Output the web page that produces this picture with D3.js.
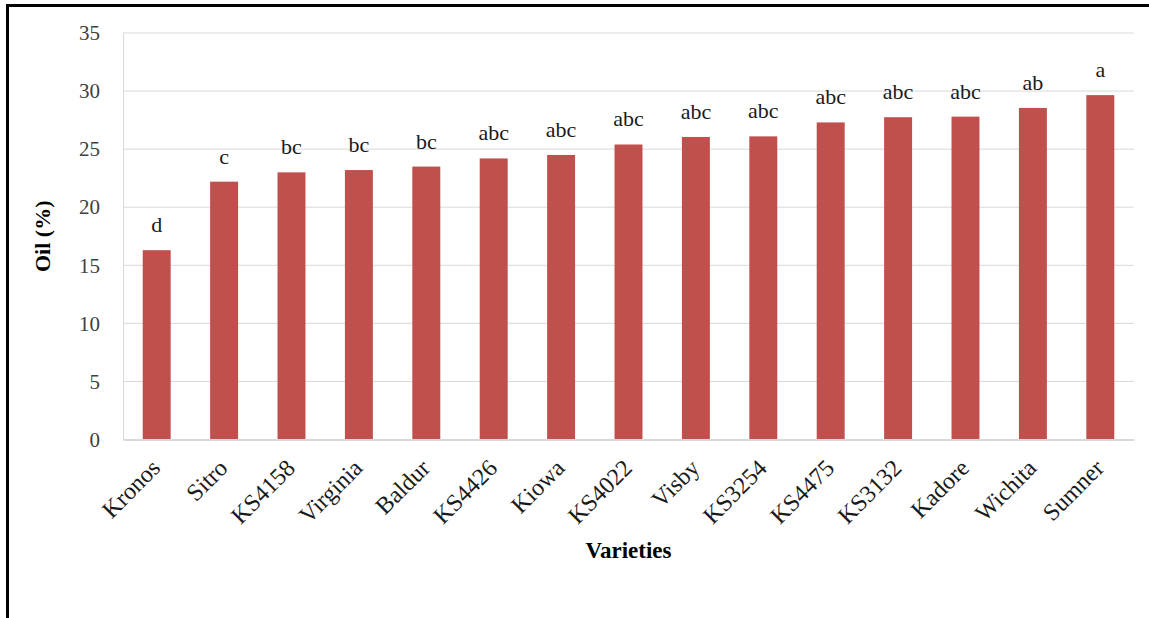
<!DOCTYPE html>
<html>
<head>
<meta charset="utf-8">
<script src="https://cdn.jsdelivr.net/npm/d3@7"></script>
<style>
  body { margin: 0; background: #fff; }
  svg text { font-family: "Liberation Serif", "Times New Roman", serif; }
</style>
</head>
<body>
<div id="chartContainer"></div>
<script>
var varieties = ["Kronos", "Sitro", "KS4158", "Virginia", "Baldur", "KS4426", "Kiowa", "KS4022",
                 "Visby", "KS3254", "KS4475", "KS3132", "Kadore", "Wichita", "Sumner"];
var oil       = [16.3, 22.2, 23.0, 23.2, 23.5, 24.2, 24.5, 25.4, 26.05, 26.1, 27.3, 27.75, 27.8, 28.55, 29.65];
var letters   = ["d", "c", "bc", "bc", "bc", "abc", "abc", "abc", "abc", "abc", "abc", "abc", "abc", "ab", "a"];
var yTicks    = [0, 5, 10, 15, 20, 25, 30, 35];

var W = 1149, H = 618;
var plotLeft = 123, plotRight = 1134, plotTop = 33, plotBottom = 439.5;

var svg = d3.select("#chartContainer")
  .append("svg")
    .attr("width", W)
    .attr("height", H);

// frame (left + top edges only)
svg.append("line").attr("x1", 7.5).attr("x2", 7.5).attr("y1", 4).attr("y2", H)
  .attr("stroke", "#000").attr("stroke-width", 3);
svg.append("line").attr("x1", 6).attr("x2", W).attr("y1", 5.5).attr("y2", 5.5)
  .attr("stroke", "#000").attr("stroke-width", 3);

var x = d3.scaleBand()
  .domain(varieties)
  .range([plotLeft, plotRight])
  .paddingInner(0.585)
  .paddingOuter(0.2925);

var y = d3.scaleLinear()
  .domain([0, 35])
  .range([plotBottom, plotTop]);

// gridlines
svg.append("g")
  .selectAll("line")
  .data(yTicks.filter(function(d) { return d > 0; }))
  .join("line")
    .attr("x1", plotLeft).attr("x2", plotRight)
    .attr("y1", function(d) { return y(d); })
    .attr("y2", function(d) { return y(d); })
    .attr("stroke", "#d9d9d9")
    .attr("stroke-width", 1);

// Y axis
var yAxis = svg.append("g")
  .attr("transform", "translate(" + plotLeft + ",0)")
  .call(d3.axisLeft(y).tickValues(yTicks).tickSize(0).tickPadding(23));
yAxis.select(".domain").attr("stroke", "#d9d9d9");
yAxis.selectAll("text")
  .attr("font-size", 21)
  .attr("fill", "#404040")
  .attr("font-family", "Liberation Serif");

// bars
svg.append("g")
  .selectAll("rect")
  .data(oil)
  .join("rect")
    .attr("x", function(d, i) { return x(varieties[i]); })
    .attr("y", function(d) { return y(d); })
    .attr("width", x.bandwidth())
    .attr("height", function(d) { return y(0) - y(d); })
    .attr("fill", "#c0504d");

// X axis
var xAxis = svg.append("g")
  .attr("transform", "translate(0," + plotBottom + ")")
  .call(d3.axisBottom(x).tickSize(0).tickPadding(0));
xAxis.select(".domain").attr("stroke", "#d9d9d9").attr("stroke-width", 2);
xAxis.selectAll("text")
  .attr("font-size", 24)
  .attr("fill", "#1a1a1a")
  .attr("font-family", "Liberation Serif")
  .attr("text-anchor", "end")
  .attr("dy", null)
  .attr("y", 0)
  .attr("transform", "translate(5,30) rotate(-45)");

// significance letters
svg.append("g")
  .selectAll("text")
  .data(letters)
  .join("text")
    .attr("x", function(d, i) { return x(varieties[i]) + x.bandwidth() / 2; })
    .attr("y", function(d, i) { return y(oil[i]) - 18; })
    .attr("text-anchor", "middle")
    .attr("font-size", 22)
    .attr("fill", "#1a1a1a")
    .text(function(d) { return d; });

// axis titles
svg.append("text")
  .attr("transform", "translate(" + 50 + "," + ((plotTop + plotBottom) / 2) + ") rotate(-90)")
  .attr("text-anchor", "middle")
  .attr("font-size", 22)
  .attr("font-weight", "bold")
  .attr("fill", "#000")
  .text("Oil (%)");

svg.append("text")
  .attr("x", (plotLeft + plotRight) / 2)
  .attr("y", 558)
  .attr("text-anchor", "middle")
  .attr("font-size", 23)
  .attr("font-weight", "bold")
  .attr("fill", "#000")
  .text("Varieties");
</script>
</body>
</html>
